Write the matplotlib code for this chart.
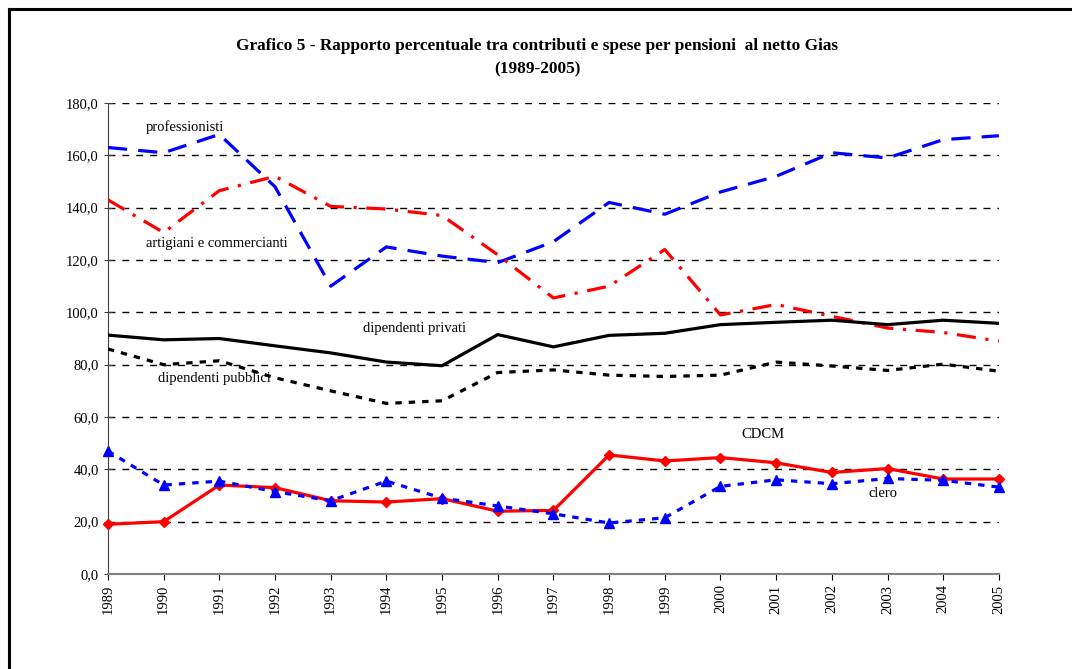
import numpy as np
import matplotlib
matplotlib.use('Agg')
from matplotlib import pyplot as plt
from matplotlib.ticker import FuncFormatter

plt.rcParams['font.family'] = ['Liberation Serif', 'DejaVu Serif']

years = list(range(1989, 2006))

professionisti = [163, 161, 168, 148, 110, 125, 121.5, 119, 127, 142, 137.5, 146, 152, 161, 159, 166, 167.5]
artigiani = [143, 130.5, 146.5, 152, 140.5, 139.5, 137, 122, 105.5, 110, 124, 99, 103, 98.5, 94, 92.3, 89]
privati = [91.3, 89.5, 90, 87.2, 84.5, 81, 79.6, 91.5, 86.8, 91.2, 92, 95.3, 96.2, 97, 95.3, 97, 95.8]
pubblici = [86, 80, 81.5, 75, 70, 65.2, 66.2, 77, 78, 76, 75.5, 76, 81, 79.5, 77.8, 80.2, 77.5]
cdcm = [19, 20, 34, 33, 28, 27.5, 28.8, 24, 24.3, 45.5, 43.2, 44.5, 42.5, 38.8, 40.3, 36.3, 36.3]
clero = [47, 34, 35.5, 31.5, 28, 35.5, 29, 26, 23, 19.5, 21.5, 33.5, 36, 34.5, 36.5, 35.8, 33.2]

fig = plt.figure(figsize=(10.72, 6.69), dpi=100)
ax = fig.add_axes([0.1007, 0.142, 0.8311, 0.704])

# griglia tratteggiata
for v in range(20, 181, 20):
    ax.axhline(v, color='black', lw=1, ls=(0, (5, 5)), zorder=1)

ax.plot(years, professionisti, color='#0000FF', lw=2.3, ls=(0, (6, 3.5)), zorder=3)
ax.plot(years, artigiani, color='#FF0000', lw=2.3, ls=(0, (6, 3, 1, 3)), zorder=3)
ax.plot(years, privati, color='black', lw=2.3, ls='-', zorder=3)
ax.plot(years, pubblici, color='black', lw=2.3, ls=(0, (2, 2.2)), zorder=3)
ax.plot(years, cdcm, color='#FF0000', lw=2.3, ls='-', marker='D', ms=5.5, zorder=4, clip_on=False)
ax.plot(years, clero, color='#0000FF', lw=2.3, ls=(0, (2, 2.2)), marker='^', ms=7, zorder=4, clip_on=False)

ax.set_xlim(1989, 2005)
ax.set_ylim(0, 180)
ax.set_xticks(years)
ax.set_xticklabels([str(y) for y in years], rotation=90, fontsize=10.5)
ax.set_yticks(range(0, 181, 20))
ax.yaxis.set_major_formatter(FuncFormatter(lambda v, p: ('%.1f' % v).replace('.', ',')))
ax.tick_params(axis='y', labelsize=10.5, direction='inout', length=6, color='#404040')
ax.tick_params(axis='x', direction='out', length=4, color='black')
ax.spines['top'].set_visible(False)
ax.spines['right'].set_visible(False)
ax.spines['left'].set_color('#404040')
ax.spines['bottom'].set_color('#808080')
ax.spines['bottom'].set_linewidth(1.5)

lab = dict(fontsize=10.5, va='center', ha='left', zorder=5)
ax.text(1989.68, 170.8, 'professionisti', **lab)
ax.text(1989.68, 126.5, 'artigiani e commercianti', **lab)
ax.text(1993.58, 94.0, 'dipendenti privati', **lab)
ax.text(1989.9, 74.9, 'dipendenti pubblici', **lab)
ax.text(2000.37, 53.5, 'CDCM', **lab)
ax.text(2002.65, 30.6, 'clero', **lab)

fig.text(0.501, 0.931, 'Grafico 5 - Rapporto percentuale tra contributi e spese per pensioni  al netto Gias',
         ha='center', va='center', fontsize=12.4, fontweight='bold')
fig.text(0.501, 0.897, '(1989-2005)', ha='center', va='center', fontsize=12.4, fontweight='bold')

# cornice
fig.add_artist(plt.Line2D([9 / 1072, 1], [1 - 9 / 669, 1 - 9 / 669], color='black', lw=2.2, transform=fig.transFigure))
fig.add_artist(plt.Line2D([9 / 1072, 9 / 1072], [0, 1 - 9 / 669], color='black', lw=2.2, transform=fig.transFigure))

plt.savefig('out.png', dpi=100)
